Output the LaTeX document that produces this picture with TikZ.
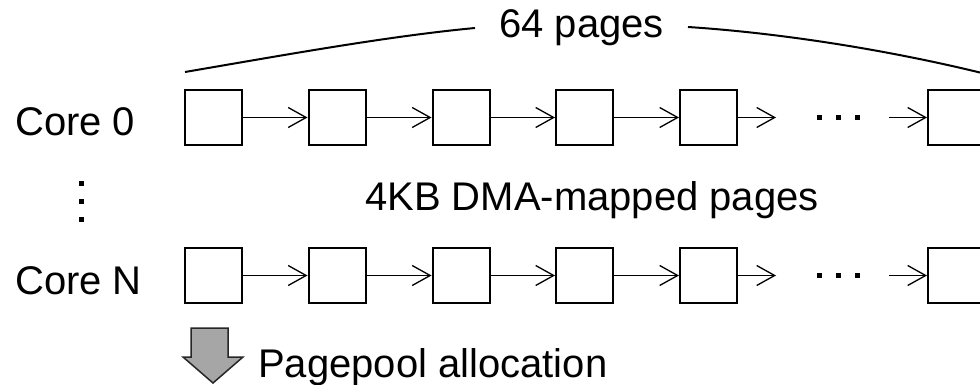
\documentclass[tikz,border=0pt]{standalone}
\usepackage{fontspec}
\setmainfont{Liberation Sans}
\usetikzlibrary{arrows.meta}
\begin{document}
\begin{tikzpicture}[x=1pt,y=-1pt,
  pg/.style={draw=black,line width=2pt,minimum width=57pt,minimum height=55pt,inner sep=0pt,fill=white},
  lnk/.style={line width=1.3pt,-{Straight Barb[length=18pt,width=20pt,line width=1.3pt]}},
  lbl/.style={inner sep=0pt,font=\fontsize{40}{47}\selectfont},
  dot/.style={fill=black},
  brace/.style={line width=2pt}]
\useasboundingbox (0,0) rectangle (980,385);
% labels
\node[lbl,anchor=base west] (c0) at (15,136) {Core 0};
\node[lbl,anchor=base west] (cn) at (15,294) {Core N};
\node[lbl,anchor=base west] (sixtyfour) at (499,38) {64 pages};
\node[lbl,anchor=base] (dma) at (592,210) {4KB DMA-mapped pages};
\node[lbl,anchor=base west] (pp) at (258,377) {Pagepool allocation};
% vertical dots
\foreach \yy in {183,201,219} \fill[dot] (78.5,\yy-2.5) rectangle ++(5,5);
% rows
\foreach \r/\yy in {a/117.5,b/275.5}{
  \node[pg] (\r1) at (213,\yy) {};
  \node[pg] (\r2) at (337,\yy) {};
  \node[pg] (\r3) at (461,\yy) {};
  \node[pg] (\r4) at (584.5,\yy) {};
  \node[pg] (\r5) at (708.5,\yy) {};
  \node[pg] (\r6) at (956.5,\yy) {};
  \coordinate (\r e) at (776,\yy);
  \coordinate (\r s) at (889,\yy);
  \draw[lnk] (\r1.east) -- (\r2.west);
  \draw[lnk] (\r2.east) -- (\r3.west);
  \draw[lnk] (\r3.east) -- (\r4.west);
  \draw[lnk] (\r4.east) -- (\r5.west);
  \draw[lnk] (\r5.east) -- (\r e);
  \draw[lnk] (\r s) -- (\r6.west);
  \foreach \xx in {819.5,838,857} \fill[dot] (\xx-2.5,\yy-2.5) rectangle ++(5,5);
}
% 64 pages bracket
\draw[brace] (185,72) .. controls (290,54) and (390,36) .. (475,28);
\draw[brace] (688,27) .. controls (780,33) and (890,50) .. (990,75);
% pagepool arrow
\draw[line width=1.5pt,draw=black!85,fill={rgb,255:red,166;green,166;blue,166}]
  (191,328) -- (228,328) -- (228,357) -- (243,357) -- (213,383) -- (183,357) -- (191,357) -- cycle;
\end{tikzpicture}
\end{document}
